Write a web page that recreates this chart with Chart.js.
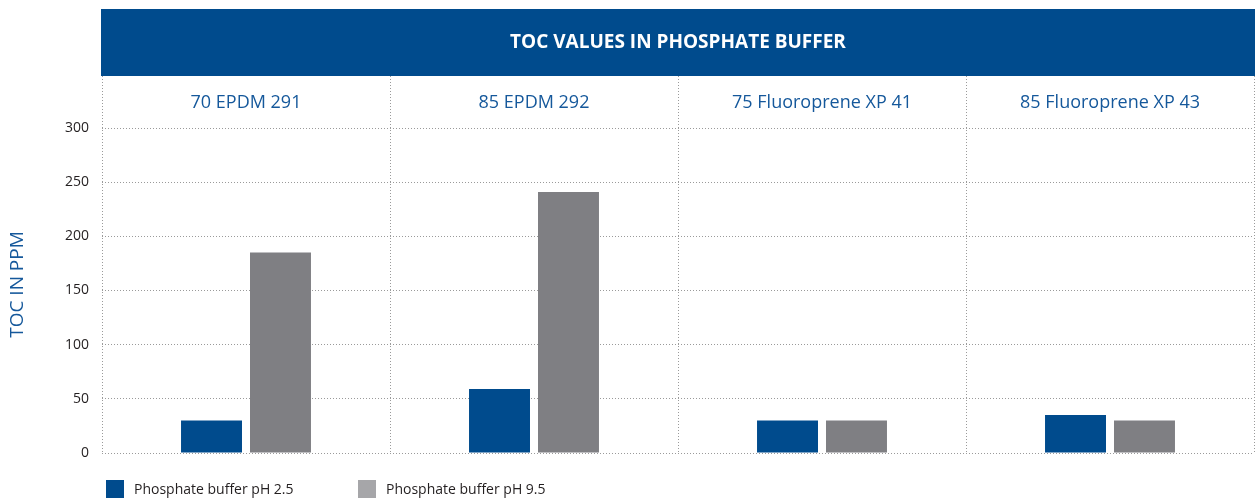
<!DOCTYPE html>
<html>
<head>
<meta charset="utf-8">
<script src="https://cdn.jsdelivr.net/npm/chart.js@4"></script>
<style>
  html, body { margin: 0; padding: 0; background: #fff; }
  #wrap { width: 1255px; height: 502px; }
</style>
</head>
<body>
<div id="wrap"><canvas id="tocChart" width="1255" height="502"></canvas></div>
<script>
const categories = ['70 EPDM 291', '85 EPDM 292', '75 Fluoroprene XP 41', '85 Fluoroprene XP 43'];
const ph25 = [30, 59, 30, 35];
const ph95 = [185, 241, 30, 30];
const seriesNames = ['Phosphate buffer pH 2.5', 'Phosphate buffer pH 9.5'];
const yTicks = [0, 50, 100, 150, 200, 250, 300];

const FONT = "'Open Sans', sans-serif";
const BLUE = '#004b8d';
const GREY = '#7f7f83';
const legendColors = [BLUE, '#a6a6a9'];

// header bar, column labels, axis title and legend
const decorations = {
  id: 'decorations',
  beforeDraw(chart) {
    const {ctx, chartArea} = chart;
    ctx.save();
    ctx.fillStyle = BLUE;
    ctx.fillRect(chartArea.left - 1, 9, chart.width - chartArea.left + 1, chartArea.top - 9);
    ctx.fillStyle = '#fff';
    ctx.font = 'bold 19px ' + FONT;
    ctx.textAlign = 'center';
    ctx.textBaseline = 'middle';
    ctx.fillText('TOC VALUES IN PHOSPHATE BUFFER', (chartArea.left + chartArea.right) / 2, 43);
    ctx.restore();
  },
  afterDraw(chart) {
    const {ctx} = chart;
    const x = chart.scales.x;
    const y = chart.scales.y;
    ctx.save();
    ctx.fillStyle = '#15589b';
    ctx.font = '18px ' + FONT;
    ctx.textAlign = 'center';
    ctx.textBaseline = 'middle';
    categories.forEach((c, i) => ctx.fillText(c, x.getPixelForValue(i), 103));

    // y title, centred on the ticked part of the axis
    ctx.save();
    ctx.translate(18, (y.getPixelForValue(0) + y.getPixelForValue(300)) / 2 - 6);
    ctx.rotate(-Math.PI / 2);
    ctx.font = '19px ' + FONT;
    ctx.fillText('TOC IN PPM', 0, 0);
    ctx.restore();

    // legend
    let lx = 106;
    ctx.font = '14px ' + FONT;
    ctx.textAlign = 'left';
    chart.data.datasets.forEach((ds, i) => {
      ctx.fillStyle = legendColors[i];
      ctx.fillRect(lx, 480, 18, 18);
      ctx.fillStyle = '#231f20';
      ctx.fillText(ds.label, lx + 28, 490);
      lx += 252;
    });
    ctx.restore();
  }
};

new Chart(document.getElementById('tocChart'), {
  type: 'bar',
  data: {
    labels: categories,
    datasets: [{
      label: seriesNames[0],
      data: ph25,
      backgroundColor: BLUE,
      categoryPercentage: 0.479,
      barPercentage: 0.884
    }, {
      label: seriesNames[1],
      data: ph95,
      backgroundColor: GREY,
      categoryPercentage: 0.479,
      barPercentage: 0.884
    }]
  },
  options: {
    responsive: false,
    animation: false,
    layout: { padding: { top: 76, right: 1, bottom: 49, left: 0 } },
    plugins: {
      legend: { display: false },
      tooltip: { enabled: false }
    },
    scales: {
      x: {
        ticks: { display: false },
        grid: { color: '#9a9a9a', drawTicks: false, offset: true },
        border: { display: false, dash: [1, 2] },
        afterFit(s) { s.height = 0; }
      },
      y: {
        min: 0,
        max: 348,
        ticks: {
          padding: 13,
          color: '#231f20',
          font: { family: FONT, size: 14 }
        },
        afterBuildTicks(s) { s.ticks = yTicks.map(v => ({ value: v })); },
        grid: { color: '#9a9a9a', drawTicks: false },
        border: { display: false, dash: [1, 2] },
        afterFit(s) { s.width = 102; }
      }
    }
  },
  plugins: [decorations]
});
</script>
</body>
</html>
